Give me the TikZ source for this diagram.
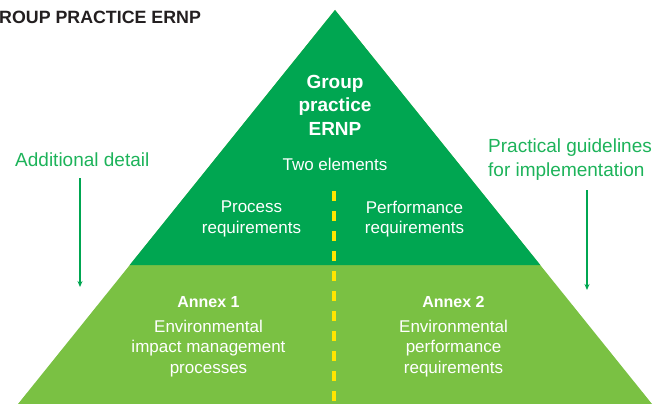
\documentclass[tikz,border=0pt]{standalone}
\usepackage{fontspec}
\setmainfont{Liberation Sans}
\usetikzlibrary{arrows.meta}
\definecolor{ernpdark}{HTML}{00A651}
\definecolor{ernplight}{HTML}{7AC143}
\definecolor{ernpyellow}{HTML}{FFE600}
\definecolor{ernptext}{HTML}{1DB35A}
\definecolor{ernpgray}{HTML}{231F20}
\tikzset{
  inlabel/.style={text=white, align=center, inner sep=0pt, anchor=north,
    font=\fontsize{17}{20.5}\selectfont},
  grouplabel/.style={inlabel, font=\bfseries\fontsize{19}{23.5}\selectfont},
  annexhead/.style={inlabel, font=\bfseries\fontsize{16}{19}\selectfont},
  sidelabel/.style={text=ernptext, inner sep=0pt, font=\fontsize{19}{24}\selectfont},
  sidearrow/.style={draw=ernpdark, line width=1.2pt, -{Stealth[length=6pt,width=5pt]}},
  splitline/.style={draw=ernpyellow, line width=3.5pt, dash pattern=on 10pt off 10pt}
}
\begin{document}
\begin{tikzpicture}[x=1pt,y=-1pt]
  \useasboundingbox (0,0) rectangle (665,404);
  % pyramid
  \fill[ernplight] (335,10) -- (18,404) -- (652,404) -- cycle;
  \fill[ernpdark] (335,10) -- (129.7,265) -- (540.3,265) -- cycle;
  \draw[splitline] (334,191) -- (334,404);
  % title
  \node[anchor=base west, inner sep=0pt, text=ernpgray, font=\bfseries\fontsize{17.8}{20}\selectfont] (title) at (-1,24) {ROUP PRACTICE ERNP};
  % upper part
  \node[grouplabel] (group) at (335,75) {Group\\practice\\ERNP};
  \node[inlabel] (two) at (335,157.6) {Two elements};
  \node[inlabel] (proc) at (251.5,200.8) {Process\\requirements};
  \node[inlabel] (perf) at (414.5,200.6) {Performance\\requirements};
  % lower part
  \node[annexhead] (ann1) at (208.5,296.5) {Annex 1};
  \node[inlabel] (env1) at (208.5,319.6) {Environmental\\impact management\\processes};
  \node[annexhead] (ann2) at (453.5,296.5) {Annex 2};
  \node[inlabel] (env2) at (453.5,319.6) {Environmental\\performance\\requirements};
  % side notes
  \node[sidelabel, anchor=base west] (detail) at (15,167) {Additional detail};
  \node[sidelabel, align=left, anchor=north west] (guide) at (488,139) {Practical guidelines\\for implementation};
  \coordinate (detailend) at (80,287);
  \coordinate (guideend) at (587,290);
  \draw[sidearrow] ([yshift=-11pt]detail.south -| detailend) -- (detailend);
  \draw[sidearrow] ([yshift=-9pt]guide.south -| guideend) -- (guideend);
\end{tikzpicture}
\end{document}
